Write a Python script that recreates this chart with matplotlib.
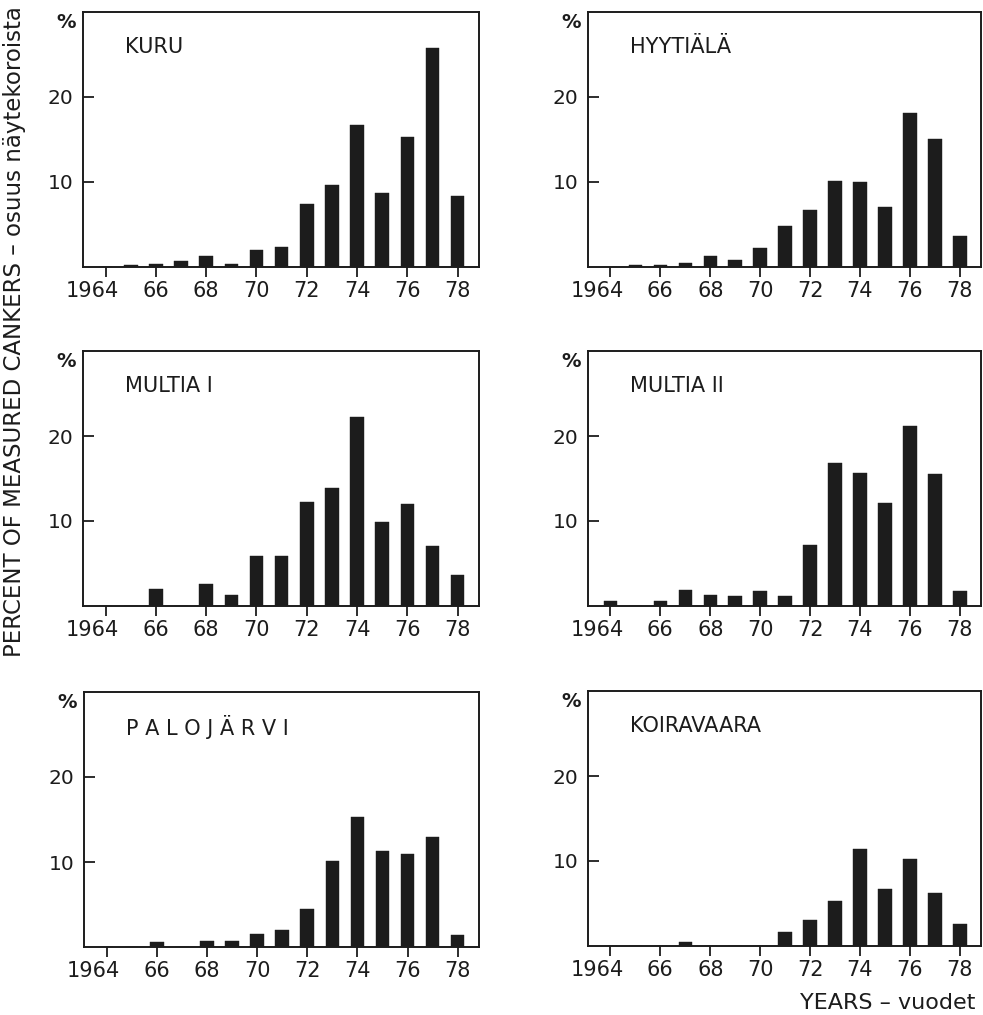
import numpy as np
import matplotlib
matplotlib.use("Agg")
import matplotlib.pyplot as plt
from matplotlib.transforms import ScaledTranslation

plt.rcParams['font.family'] = ['DejaVu Sans']

years = np.arange(1964, 1979)
tick_years = [1964, 1966, 1968, 1970, 1972, 1974, 1976, 1978]
tick_labels = ["1964", "66", "68", "70", "72", "74", "76", "78"]

# prosenttiosuudet vuosittain 1964-1978 (luettu kuvasta)
kuru = [0, 0.2, 0.3, 0.75, 1.25, 0.4, 2.0, 2.3, 7.45, 9.7, 16.7, 8.75, 15.25, 25.8, 8.3]
hyytiala = [0, 0.25, 0.25, 0.5, 1.25, 0.8, 2.2, 4.85, 6.65, 10.15, 10.05, 7.1, 18.1, 15.05, 3.6]
multia1 = [0, 0, 2.0, 0, 2.55, 1.35, 5.9, 5.9, 12.2, 13.9, 22.2, 9.9, 12.0, 7.1, 3.65]
multia2 = [0.6, 0, 0.6, 1.85, 1.25, 1.2, 1.8, 1.2, 7.15, 16.8, 15.6, 12.1, 21.2, 15.5, 1.8]
palojarvi = [0, 0, 0.6, 0, 0.7, 0.65, 1.5, 1.95, 4.45, 10.15, 15.25, 11.3, 11.0, 12.95, 1.4]
koiravaara = [0, 0, 0, 0.45, 0, 0, 0, 1.6, 3.05, 5.25, 11.45, 6.75, 10.2, 6.25, 2.55]

names = ["KURU", "HYYTIÄLÄ", "MULTIA I", "MULTIA II", "P A L O J Ä R V I", "KOIRAVAARA"]
series = [kuru, hyytiala, multia1, multia2, palojarvi, koiravaara]

W, H = 983, 1015
fig = plt.figure(figsize=(W / 100, H / 100), dpi=100)
fig.patch.set_facecolor("white")

ink = "#1c1c1c"
# paneelien paikat pikseleinä: vasen, ylä, oikea, ala
boxes = [(83, 12, 479, 267), (588, 12, 981, 267),
         (83, 351, 479, 606), (588, 351, 981, 606),
         (84, 692, 479, 947), (588, 691, 981, 946)]

for (l, t, r, b), name, vals in zip(boxes, names, series):
    ax = fig.add_axes([l / W, 1 - b / H, (r - l) / W, (b - t) / H])
    ax.bar(years, vals, width=0.54, color=ink, edgecolor=ink, linewidth=0.3)
    ax.set_xlim(1963.1, 1978.85)
    ax.set_ylim(0, 30)
    ax.set_xticks(tick_years)
    ax.set_xticklabels(tick_labels, fontsize=15, color=ink)
    ax.set_yticks([10, 20])
    ax.set_yticklabels(["10", "20"], fontsize=14.5, color=ink)
    ax.tick_params(axis="x", direction="out", length=7, width=1.3, color=ink, pad=3)
    ax.tick_params(axis="y", direction="in", length=8, width=1.3, color=ink, pad=7)
    # "1964": "19" riippuu vasemmalle, "64" tikin kohdalla
    lab = ax.xaxis.get_major_ticks()[0].label1
    lab.set_transform(lab.get_transform() + ScaledTranslation(-0.13, 0, fig.dpi_scale_trans))
    for sp in ax.spines.values():
        sp.set_linewidth(1.4)
        sp.set_color(ink)
    ax.text(0.107, 0.862, name, transform=ax.transAxes, fontsize=15,
            color=ink, ha="left", va="center")
    ax.text(-0.042, 0.96, "%", transform=ax.transAxes, fontsize=14,
            color=ink, ha="center", va="center", fontweight="bold")

fig.text(15 / W, 1 - 332 / H, "PERCENT OF MEASURED CANKERS – osuus näytekoroista",
         rotation=90, ha="center", va="center", fontsize=16.5, color=ink)
fig.text(975 / W, 1 - 1003 / H, "YEARS – vuodet", ha="right", va="center",
         fontsize=16, color=ink)

fig.savefig("out.png", dpi=100)
